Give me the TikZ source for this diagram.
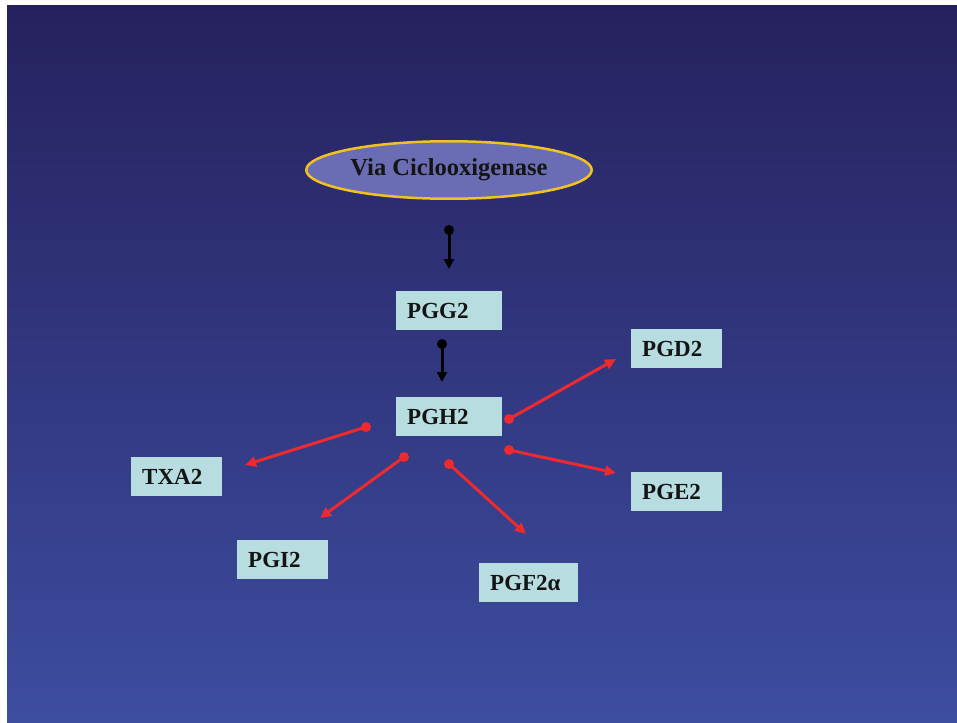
\documentclass[tikz,border=0pt]{standalone}
\usepackage{fontspec}
\setmainfont{Liberation Serif}
\usetikzlibrary{arrows.meta,shapes.geometric}
\definecolor{bgtop}{HTML}{26215E}
\definecolor{bgmid}{HTML}{293594}
\definecolor{bgbot}{HTML}{3D4DA0}
\definecolor{ellfill}{HTML}{6A6DB4}
\definecolor{gold}{HTML}{F2C21E}
\definecolor{boxfill}{HTML}{B8DDE0}
\definecolor{arrred}{HTML}{EE2A2E}
\tikzset{
  pbox/.style={fill=boxfill, inner xsep=11pt, inner ysep=0pt, minimum height=39pt,
    text width=#1, align=left, anchor=north west, text=black!92,
    font=\bfseries\fontsize{23}{23}\selectfont},
  blackarr/.style={draw=black, line width=3pt, -{Triangle[length=10pt,width=10pt]}},
  redarr/.style={draw=arrred, line width=3pt, -{Triangle[length=11pt,width=10pt]}},
}
\begin{document}
\begin{tikzpicture}[x=1pt,y=-1pt]
\fill[white] (0,0) rectangle (957,722);
\shade[top color=bgtop, middle color=bgmid, bottom color=bgbot] (7,6) rectangle (957,722);

\node[ellipse, draw=gold, line width=2.5pt, fill=ellfill, minimum width=285.5pt,
  minimum height=57.5pt, inner sep=0pt, text=black!92,
  font=\bfseries\fontsize{24.5}{24.5}\selectfont] (cox) at (449,170) {Via Ciclooxigenase};

\node[pbox=84pt] (pgg2) at (396,291) {PGG2};
\node[pbox=84pt] (pgh2) at (396,397) {PGH2};
\node[pbox=69pt] (pgd2) at (631,329) {PGD2};
\node[pbox=69pt] (pge2) at (631,472) {PGE2};
\node[pbox=69pt] (txa2) at (131,457) {TXA2};
\node[pbox=69pt] (pgi2) at (237,540) {PGI2};
\node[pbox=77pt] (pgf2) at (479,563) {PGF2α};

% black arrows
\coordinate (b1s) at (449,230); \coordinate (b1e) at (449,269);
\coordinate (b2s) at (442,344); \coordinate (b2e) at (442,382);
\fill[black] (b1s) circle (5pt);
\fill[black] (b2s) circle (5pt);
\draw[blackarr] (b1s) -- (b1e);
\draw[blackarr] (b2s) -- (b2e);

% red arrows
\coordinate (rds) at (509,419); \coordinate (rde) at (616,359);
\coordinate (res) at (509,450); \coordinate (ree) at (616,473);
\coordinate (rts) at (366,427); \coordinate (rte) at (245,465);
\coordinate (ris) at (404,457); \coordinate (rie) at (320,518);
\coordinate (rfs) at (449,464); \coordinate (rfe) at (526,534);
\foreach \s/\e in {rds/rde,res/ree,rts/rte,ris/rie,rfs/rfe}{
  \fill[arrred] (\s) circle (5pt);
  \draw[redarr] (\s) -- (\e);
}
\end{tikzpicture}
\end{document}
